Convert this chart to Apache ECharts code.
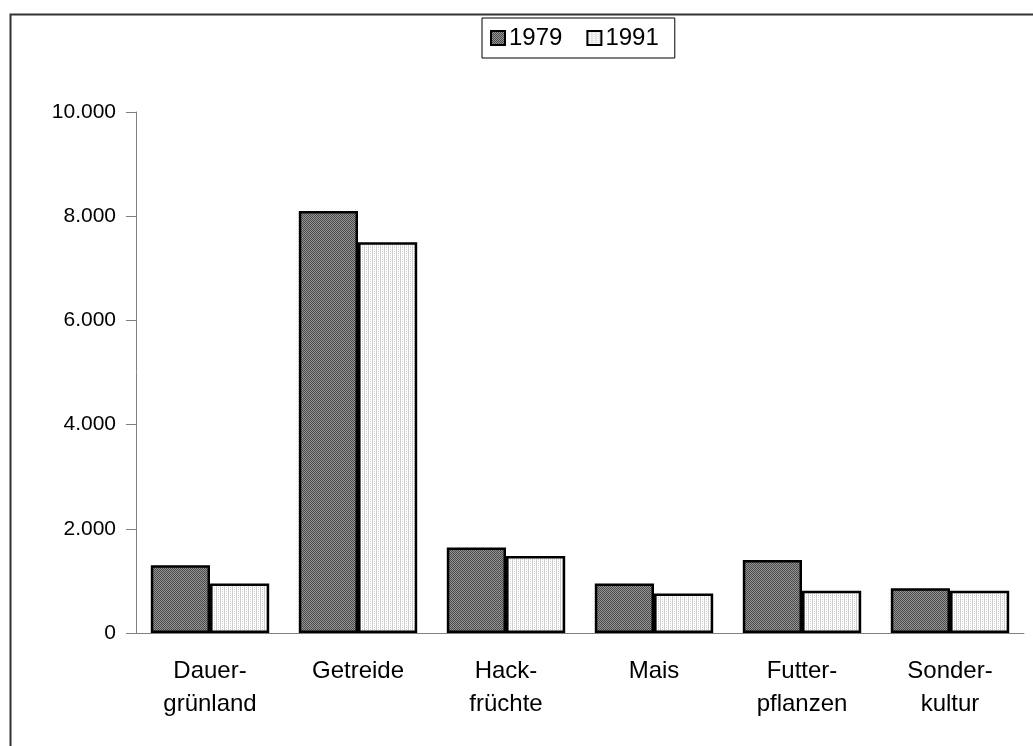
<!DOCTYPE html>
<html>
<head>
<meta charset="utf-8">
<script src="https://cdn.jsdelivr.net/npm/echarts@6/dist/echarts.min.js"></script>
<style>
  html, body { margin: 0; padding: 0; background: #fff; }
  #chart { width: 1033px; height: 746px; }
</style>
</head>
<body>
<div id="chart"></div>
<script>
const categories = ['Dauer-\ngrünland', 'Getreide', 'Hack-\nfrüchte', 'Mais', 'Futter-\npflanzen', 'Sonder-\nkultur']
const values1979 = [1300, 8100, 1640, 950, 1400, 860]
const values1991 = [950, 7500, 1480, 760, 810, 810]
const yTickLabels = ['0', '2.000', '4.000', '6.000', '8.000', '10.000']

// small canvas tiles to mimic the hatched fills
function pattern(bg, fg, cells) {
  const c = document.createElement('canvas')
  c.width = 4; c.height = 4
  const g = c.getContext('2d')
  g.fillStyle = bg; g.fillRect(0, 0, 4, 4)
  g.fillStyle = fg
  cells.forEach(([x, y]) => g.fillRect(x, y, 1, 1))
  return { image: c, repeat: 'repeat' }
}
const dark = pattern('#959595', '#4a4a4a', [[0, 0], [1, 1], [2, 2], [3, 3], [2, 0], [3, 1], [0, 2], [1, 3]])
const light = pattern('#ffffff', '#cfcfcf', [[0, 0], [0, 1], [0, 2], [0, 3], [2, 1], [2, 3]])

const font = 'Liberation Sans, Arial, sans-serif'
const chart = echarts.init(document.getElementById('chart'))

chart.setOption({
  animation: false,
  graphic: [{
    type: 'rect', left: 8, top: 12,
    shape: { width: 1100, height: 800 },
    style: { fill: 'none', stroke: '#333', lineWidth: 2 }
  }],
  legend: {
    top: 18, left: 482,
    padding: [8, 16, 8, 8],
    borderColor: '#000', borderWidth: 1,
    itemWidth: 14, itemHeight: 14, itemGap: 24,
    icon: 'rect',
    textStyle: { fontFamily: font, fontSize: 24, color: '#000', padding: [2, 0, 0, -1] },
    data: ['1979', '1991']
  },
  grid: { left: 136, right: 9, top: 112, bottom: 113 },
  xAxis: [{
    type: 'category', data: categories,
    axisLine: { lineStyle: { color: '#808080' } },
    axisTick: { length: 10, lineStyle: { color: '#808080' } },
    axisLabel: { margin: 22, fontFamily: font, fontSize: 24, lineHeight: 33, color: '#000' }
  }, {
    type: 'category', data: categories, position: 'bottom',
    axisLine: { show: false },
    axisTick: { inside: true, length: 8, lineStyle: { color: '#808080' } },
    axisLabel: { show: false }
  }],
  yAxis: {
    type: 'value', min: 0, max: 10000, interval: 2000,
    splitLine: { show: false },
    axisLine: { show: true, lineStyle: { color: '#808080' } },
    axisTick: { show: true, length: 10, lineStyle: { color: '#808080' } },
    axisLabel: {
      margin: 20, fontFamily: font, fontSize: 21, color: '#000',
      formatter: v => yTickLabels[Math.round(v / 2000)]
    }
  },
  series: [{
    name: '1979', type: 'bar', data: values1979,
    barGap: '0%', barCategoryGap: '20%',
    itemStyle: { color: dark, borderColor: '#000', borderWidth: 2.5 }
  }, {
    name: '1991', type: 'bar', data: values1991,
    itemStyle: { color: light, borderColor: '#000', borderWidth: 2.5 }
  }]
})
</script>
</body>
</html>
